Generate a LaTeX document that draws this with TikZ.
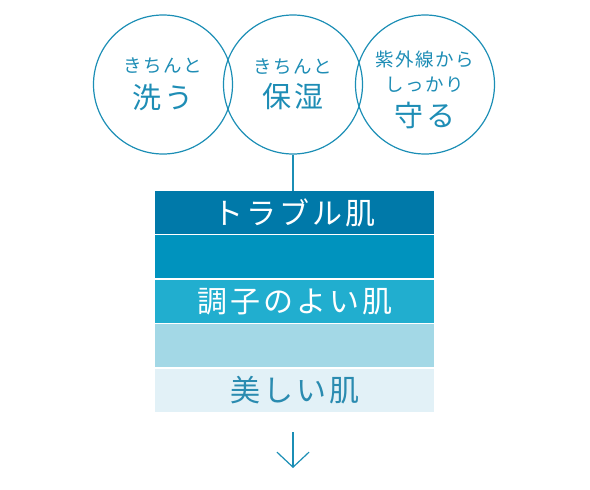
\documentclass[tikz,border=0pt]{standalone}
\usepackage{fontspec}
\usepackage{tikz}
\usetikzlibrary{positioning, arrows.meta}
\newfontfamily\circleFont[LetterSpace=8]{Noto Sans CJK JP}
\newfontfamily\barFont[LetterSpace=10]{Noto Sans CJK JP}
\definecolor{lineColor}{RGB}{27,142,181}
\definecolor{textColor}{RGB}{30,141,181}
\definecolor{barOne}{RGB}{0,121,169}
\definecolor{barTwo}{RGB}{0,147,190}
\definecolor{barThree}{RGB}{33,174,207}
\definecolor{barFour}{RGB}{163,216,230}
\definecolor{barFive}{RGB}{226,241,247}
\definecolor{barText}{RGB}{42,139,176}
\tikzstyle{canvas} = [x = 1pt, y = -1pt]
\tikzstyle{careCircle} = [circle, draw = lineColor, line width = 1.2pt, minimum size = 139pt, inner sep = 0pt, align = center, text = textColor, font = \circleFont\fontsize{18.5}{25.5}\selectfont]
\tikzstyle{skinBar} = [rectangle, minimum width = 279pt, minimum height = 43pt, inner sep = 0pt, text = white, font = \barFont\fontsize{30}{34}\selectfont]
\tikzstyle{linkLine} = [color = lineColor, line width = 1.2pt]
\tikzstyle{downArrow} = [color = lineColor, line width = 1.2pt, -{Straight Barb[length = 15pt, width = 32pt]}]
\newcommand{\bigText}{\fontsize{29}{33}\selectfont}
\newcommand{\topPad}{\rule{0pt}{26pt}}

\begin{document}
\begin{tikzpicture}[canvas]
  \useasboundingbox (0, 0) rectangle (590, 490);

  % three circles
  \node [careCircle] (wash) at (163, 84.5) {きちんと\\[9pt]{\bigText 洗う}};
  \node [careCircle] (moist) at (293, 84.5) {きちんと\\[9pt]{\bigText 保湿}};
  \node [careCircle] (guard) at (425, 84.5) {\topPad 紫外線から\\しっかり\\[9pt]{\bigText 守る}};

  % skin bars
  \node [skinBar, fill = barOne] (trouble) at (294.5, 212.5) {トラブル肌};
  \node [skinBar, fill = barTwo, below = 1pt of trouble] (stepTwo) {};
  \node [skinBar, fill = barThree, below = 1pt of stepTwo] (good) {調子のよい肌};
  \node [skinBar, fill = barFour, below = 1pt of good] (stepFour) {};
  \node [skinBar, fill = barFive, text = barText, below = 1pt of stepFour] (beauty) {美しい肌};

  \draw [linkLine] (moist.south) -- (moist.south |- trouble.north);

  \coordinate (arrowStart) at (293, 432);
  \coordinate (arrowEnd) at (293, 468);
  \draw [downArrow] (arrowStart) -- (arrowEnd);
\end{tikzpicture}
\end{document}
